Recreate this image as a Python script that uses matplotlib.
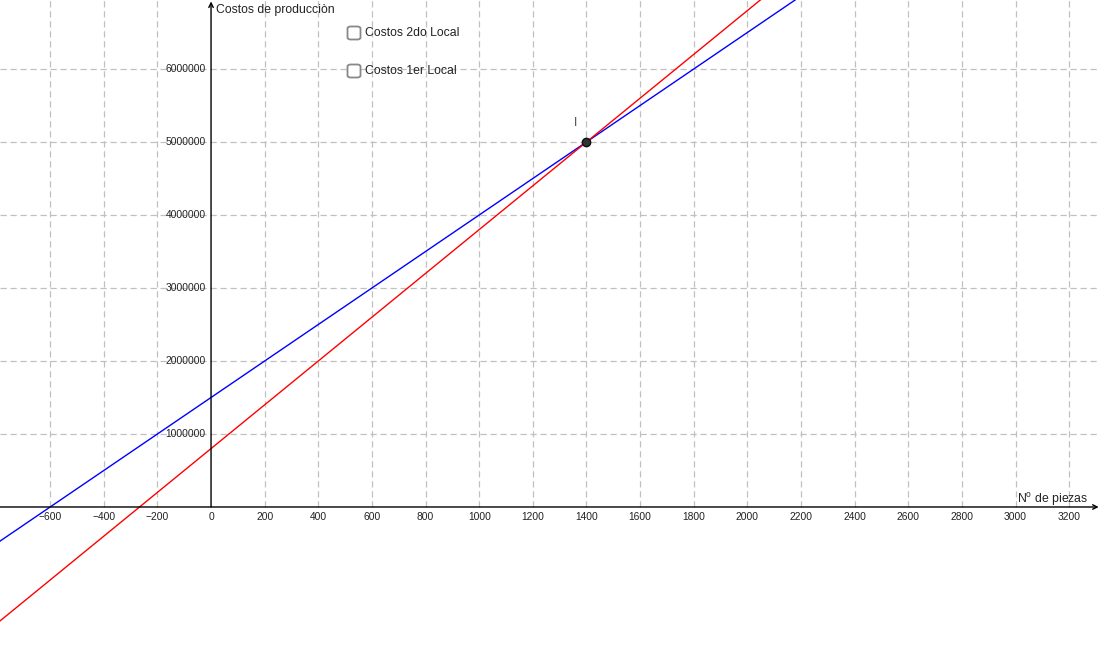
import matplotlib
matplotlib.use("Agg")
import matplotlib.pyplot as plt
from matplotlib.patches import FancyBboxPatch

plt.rcParams['font.family'] = ['Liberation Sans', 'DejaVu Sans']

# Data
x_ticks = [-600, -400, -200, 0, 200, 400, 600, 800, 1000, 1200, 1400, 1600,
           1800, 2000, 2200, 2400, 2600, 2800, 3000, 3200]
y_ticks = [1000000, 2000000, 3000000, 4000000, 5000000, 6000000]
series_names = ["Costos 2do Local", "Costos 1er Local"]
fixed_costs = [1500000, 800000]
unit_costs = [2500, 3000]
line_colors = ["#0000ff", "#ff0000"]
point_I = (1400, 5000000)

xlim = (-787, 3315)
ylim = (-1959000, 6945000)

fig = plt.figure(figsize=(11, 6.5), dpi=100)
ax = fig.add_axes([0, 0, 1, 1])
ax.set_xlim(*xlim)
ax.set_ylim(*ylim)
ax.axis('off')

grid_kw = dict(color='#c0c0c0', lw=0.9, linestyle=(0, (5, 3)), zorder=0)
for xv in x_ticks:
    if xv != 0:
        ax.plot([xv, xv], [0, ylim[1]], **grid_kw)
for yv in y_ticks:
    ax.plot(list(xlim), [yv, yv], **grid_kw)

# axes
ax.annotate('', xy=(xlim[1] - 5, 0), xytext=(xlim[0], 0),
            arrowprops=dict(arrowstyle='->', lw=1.0, color='black',
                            shrinkA=0, shrinkB=0, mutation_scale=8), zorder=3)
ax.annotate('', xy=(0, ylim[1] - 20000), xytext=(0, 0),
            arrowprops=dict(arrowstyle='->', lw=1.0, color='black',
                            shrinkA=0, shrinkB=0, mutation_scale=8), zorder=3)

for xv in x_ticks:
    lab = str(xv).replace('-', '\u2212')
    ax.text(xv, -75000, lab, ha='center', va='top', fontsize=7.4,
            color='#222222', zorder=4)
for yv in y_ticks:
    ax.text(-20, yv, str(yv), ha='right', va='center', fontsize=7.4,
            color='#222222', zorder=4)

ax.text(1088 / 1100, 1 - 503 / 650, 'N$^{\\mathregular{o}}$ de piezas',
        transform=ax.transAxes, ha='right', va='baseline', fontsize=8.8,
        color='#222222')
ax.text(216 / 1100, 1 - 4 / 650, 'Costos de producciòn', transform=ax.transAxes,
        ha='left', va='top', fontsize=8.8, color='#222222')

for f, u, c in zip(fixed_costs, unit_costs, line_colors):
    ax.axline((0, f), slope=u, color=c, lw=1.0, zorder=2)

ax.plot(*point_I, 'o', ms=6, color='#333333', mec='#111111', zorder=5)
ax.text(point_I[0] - 40, point_I[1] + 180000, 'I', ha='center', va='bottom',
        fontsize=8.5, color='#444444')

# checkboxes
for i, name in enumerate(series_names):
    cy = 1 - (33 + 38 * i) / 650
    cx = 354 / 1100
    w = 13 / 1100
    h = 13 / 650
    box = FancyBboxPatch((cx - w / 2, cy - h / 2), w, h,
                         boxstyle='round,pad=0,rounding_size=0.003',
                         transform=ax.transAxes, fc='white', ec='#888888',
                         lw=1.3, zorder=6)
    ax.add_patch(box)
    ax.text(365 / 1100, cy, name, transform=ax.transAxes, ha='left',
            va='center', fontsize=8.8, color='#222222', zorder=6)

fig.savefig('out.png', dpi=100)
